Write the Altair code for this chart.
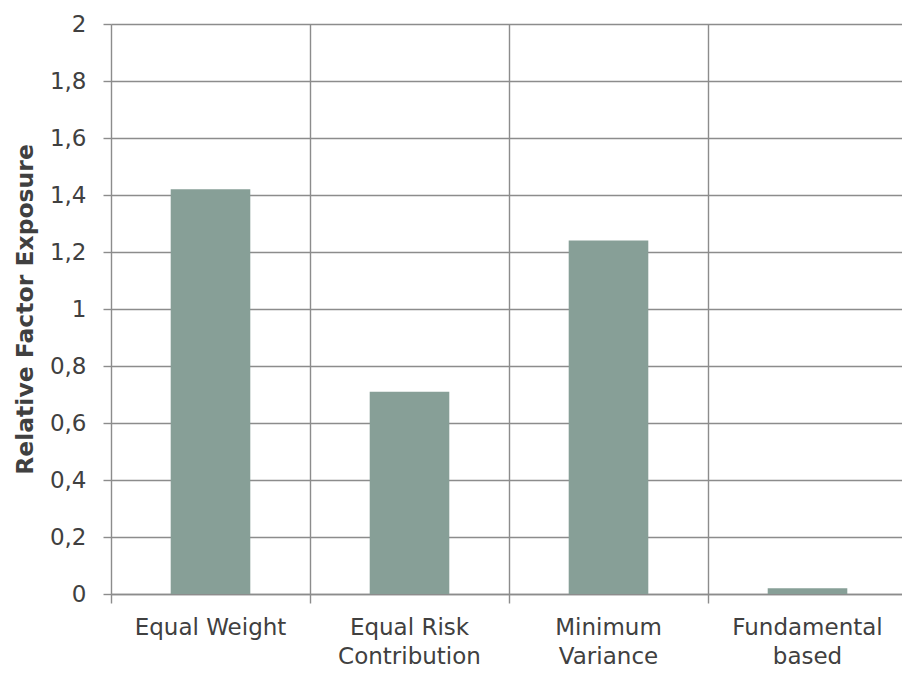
import altair as alt
import pandas as pd

categories = ["Equal Weight", "Equal Risk Contribution", "Minimum Variance", "Fundamental based"]
label_lines = [["Equal Weight"], ["Equal Risk", "Contribution"], ["Minimum", "Variance"], ["Fundamental", "based"]]
values = [1.42, 0.71, 1.24, 0.02]
y_ticks = [0, 0.2, 0.4, 0.6, 0.8, 1.0, 1.2, 1.4, 1.6, 1.8, 2.0]

df = pd.DataFrame({"cat": categories, "val": values})

# label expression mapping category -> multi-line array
parts = []
for c, lines in zip(categories, label_lines):
    arr = "[" + ",".join("'" + l + "'" for l in lines) + "]"
    parts.append(f"datum.value == '{c}' ? {arr}")
label_expr = " : ".join(parts) + " : datum.value"

FONT = "DejaVu Sans"
TXT = "#404040"
GRID = "#8c8c8c"

chart = alt.Chart(df).mark_bar(
    color="#879f97", width=alt.RelativeBandSize(0.4)
).encode(
    x=alt.X(
        "cat:N",
        sort=categories,
        title=None,
        scale=alt.Scale(paddingInner=0, paddingOuter=0, range=[0, 796]),
        axis=alt.Axis(
            bandPosition=0,
            grid=True,
            gridColor=GRID,
            gridWidth=1.4,
            domainColor=GRID,
            domainWidth=1.4,
            tickColor=GRID,
            tickWidth=1.4,
            tickSize=9,
            labelAngle=0,
            labelFont=FONT,
            labelFontSize=23,
            labelColor=TXT,
            labelPadding=13,
            labelLineHeight=29,
            labelExpr=label_expr,
        ),
    ),
    y=alt.Y(
        "val:Q",
        title="Relative Factor Exposure",
        scale=alt.Scale(domain=[0, 2], nice=False),
        axis=alt.Axis(
            values=y_ticks,
            grid=True,
            gridColor=GRID,
            gridWidth=1.4,
            domain=False,
            tickColor=GRID,
            tickWidth=1.4,
            tickSize=8,
            labelExpr="replace(format(datum.value, '~g'), '.', ',')",
            labelFont=FONT,
            labelFontSize=23,
            labelColor=TXT,
            labelPadding=17,
            titleFont=FONT,
            titleFontSize=23.5,
            titleFontWeight="bold",
            titleColor=TXT,
            titlePadding=12,
        ),
    ),
).properties(
    width=791,
    height=570,
    padding={"left": 111, "top": 24, "right": 0, "bottom": 80},
    autosize=alt.AutoSizeParams(type="none"),
).configure_view(stroke=None).configure(background="white")

chart.save("out.html", embed_options={"renderer": "svg", "actions": False})
